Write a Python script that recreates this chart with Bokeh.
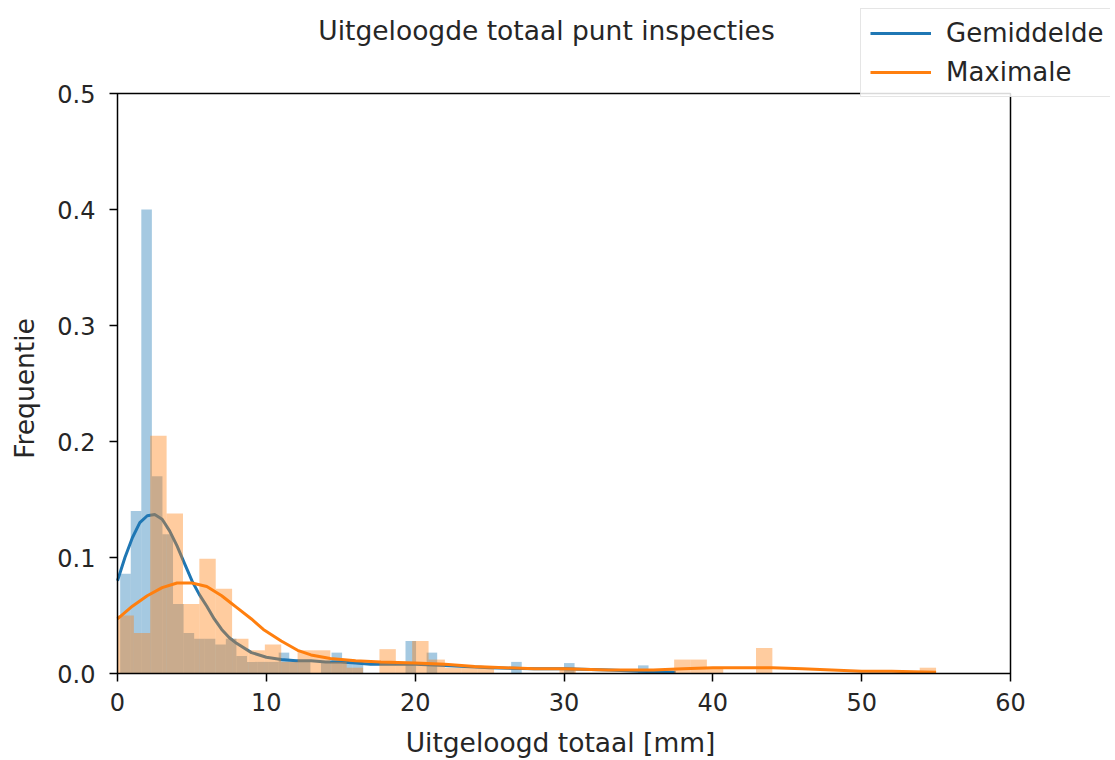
import math
from bokeh.plotting import figure
from bokeh.models import (Range1d, FixedTicker, PrintfTickFormatter, Legend, LegendItem,
                          ColumnDataSource, BoxAnnotation, Label)
from bokeh.embed import file_html
from bokeh.resources import INLINE

# ---------------- data ----------------
title_text = "Uitgeloogde totaal punt inspecties"
x_label = "Uitgeloogd totaal [mm]"
y_label = "Frequentie"
series_names = ["Gemiddelde", "Maximale"]

# histogram of "Gemiddelde": equal bins, first edge and width
blue_bin_start = 0.18
blue_bin_width = 0.71
blue_density = [0.086, 0.14, 0.40, 0.17, 0.12, 0.06, 0.035, 0.03, 0.03, 0.025,
                0.03, 0.015, 0.01, 0.01, 0.01, 0.018, 0.012, 0.01, 0.0, 0.01,
                0.018, 0.01, 0.01, 0.0, 0.0, 0.0, 0.0, 0.028, 0.0, 0.018,
                0.0, 0.0, 0.0, 0.0, 0.0, 0.0, 0.0, 0.01, 0.0, 0.0,
                0.0, 0.0, 0.009, 0.0, 0.0, 0.0, 0.0, 0.0, 0.0, 0.007]

# histogram of "Maximale"
orange_bin_start = 0.0
orange_bin_width = 1.1
orange_density = [0.05, 0.035, 0.205, 0.138, 0.06, 0.099, 0.073, 0.03, 0.02, 0.025,
                  0.01, 0.02, 0.02, 0.01, 0.005, 0.0, 0.021, 0.01, 0.028, 0.012,
                  0.005, 0.005, 0.005, 0.0, 0.0, 0.0, 0.0, 0.005, 0.0, 0.0,
                  0.0, 0.0, 0.0, 0.0, 0.012, 0.012, 0.005, 0.0, 0.0, 0.022,
                  0.0, 0.0, 0.0, 0.0, 0.0, 0.0, 0.0, 0.0, 0.0, 0.005]

# density curves
blue_kde_x = [0, 0.5, 1, 1.5, 2, 2.5, 3, 3.5, 4, 4.5, 5, 5.5, 6, 6.5, 7, 7.5, 8, 9, 10,
              11, 12, 13, 14, 15, 16, 17, 18, 20, 22, 25, 28, 30, 33, 35, 37.5]
blue_kde_y = [0.080, 0.100, 0.117, 0.130, 0.136, 0.137, 0.133, 0.123, 0.110, 0.095,
              0.080, 0.068, 0.058, 0.047, 0.038, 0.031, 0.026, 0.018, 0.014,
              0.012, 0.011, 0.011, 0.010, 0.010, 0.009, 0.008, 0.008, 0.008, 0.007,
              0.005, 0.004, 0.004, 0.003, 0.002, 0.001]

orange_kde_x = [0, 1, 2, 3, 4, 5, 6, 7, 7.6, 8, 9, 9.8, 11, 12.1, 13, 14.3, 16, 17.7,
                20, 22, 24, 26, 28, 30, 33, 36, 38, 40, 42, 44, 46, 48, 50, 52, 55]
orange_kde_y = [0.047, 0.058, 0.067, 0.074, 0.078, 0.078, 0.075, 0.067, 0.061, 0.057,
                0.047, 0.038, 0.028, 0.020, 0.016, 0.013, 0.011, 0.010,
                0.009, 0.008, 0.006, 0.005, 0.004, 0.004, 0.003, 0.003, 0.004, 0.005,
                0.005, 0.005, 0.004, 0.003, 0.002, 0.002, 0.001]

x_ticks = [0, 10, 20, 30, 40, 50, 60]
y_ticks = [0.0, 0.1, 0.2, 0.3, 0.4, 0.5]
x_min, x_max = 0, 60
y_min, y_max = 0.0, 0.5

# ---------------- layout / styles ----------------
BLUE = "#1f77b4"
ORANGE = "#ff7f0e"
TEXT = "#262626"
FONT = "DejaVu Sans"

W, H = 1110, 760
AX_LEFT, AX_RIGHT, AX_TOP, AX_BOTTOM = 117, 1010, 93, 673   # visible axes box, px
# the drawing frame covers the whole canvas; the axes are pinned to the box edges,
# so that the title, labels and the legend outside the box are not clipped
ppx = (AX_RIGHT - AX_LEFT) / (x_max - x_min)
ppy = (AX_BOTTOM - AX_TOP) / (y_max - y_min)


def px_to_x(px):
    return x_min + (px - AX_LEFT) / ppx


def px_to_y(py):
    return y_min + (AX_BOTTOM - py) / ppy


def hist_source(start, width, dens):
    left = [start + i * width for i in range(len(dens))]
    right = [l + width for l in left]
    return ColumnDataSource(dict(left=left, right=right, top=dens))


p = figure(width=W, height=H, output_backend="svg", toolbar_location=None,
           x_range=Range1d(px_to_x(0), px_to_x(W)), y_range=Range1d(px_to_y(H), px_to_y(0)),
           min_border_left=0, min_border_right=0, min_border_top=0, min_border_bottom=0)

p.quad(left="left", right="right", top="top", bottom=0,
       source=hist_source(blue_bin_start, blue_bin_width, blue_density),
       fill_color=BLUE, fill_alpha=0.4, line_color=None)
blue_line = p.line(blue_kde_x, blue_kde_y, line_color=BLUE, line_width=3)

p.quad(left="left", right="right", top="top", bottom=0,
       source=hist_source(orange_bin_start, orange_bin_width, orange_density),
       fill_color=ORANGE, fill_alpha=0.4, line_color=None)
orange_line = p.line(orange_kde_x, orange_kde_y, line_color=ORANGE, line_width=3)

# axes box
p.outline_line_color = None
p.add_layout(BoxAnnotation(left=x_min, right=x_max, bottom=y_min, top=y_max,
                           fill_alpha=0, fill_color=None, line_color="black",
                           line_alpha=1.0, line_width=1.5))

# axes pinned to the box
p.xgrid.visible = False
p.ygrid.visible = False
p.xaxis.fixed_location = y_min
p.yaxis.fixed_location = x_min
p.xaxis.ticker = FixedTicker(ticks=x_ticks)
p.yaxis.ticker = FixedTicker(ticks=y_ticks)
p.xaxis.formatter = PrintfTickFormatter(format="%d")
p.yaxis.formatter = PrintfTickFormatter(format="%.1f")
for ax in (p.xaxis[0], p.yaxis[0]):
    ax.axis_line_color = None
    ax.major_tick_line_color = "black"
    ax.major_tick_line_width = 1.5
    ax.major_tick_in = 0
    ax.major_tick_out = 8
    ax.minor_tick_line_color = None
    ax.major_label_text_font = FONT
    ax.major_label_text_font_size = "24px"
    ax.major_label_text_color = TEXT
p.xaxis.major_label_standoff = 11
p.yaxis.major_label_standoff = 14

# title and axis labels
p.add_layout(Label(x=px_to_x(546), y=px_to_y(30), text=title_text, text_align="center",
                   text_baseline="middle", text_font=FONT, text_font_size="26.5px",
                   text_color=TEXT))
p.add_layout(Label(x=px_to_x(560), y=px_to_y(742), text=x_label, text_align="center",
                   text_baseline="middle", text_font=FONT, text_font_size="26.5px",
                   text_color=TEXT))
p.add_layout(Label(x=px_to_x(24), y=px_to_y(388), text=y_label, text_align="center",
                   text_baseline="middle", angle=math.pi / 2, text_font=FONT,
                   text_font_size="26.5px", text_color=TEXT))

legend = Legend(items=[LegendItem(label=series_names[0], renderers=[blue_line]),
                       LegendItem(label=series_names[1], renderers=[orange_line])],
                location=(860, H - 97))
legend.label_text_font = FONT
legend.label_text_font_size = "26px"
legend.label_text_color = TEXT
legend.glyph_width = 61
legend.glyph_height = 30
legend.label_height = 30
legend.label_standoff = 15
legend.padding = 9
legend.spacing = 9
legend.margin = 0
legend.border_line_color = "#cccccc"
legend.border_line_width = 1.5
legend.background_fill_color = "white"
legend.background_fill_alpha = 0.85
p.add_layout(legend, "center")

open("out.html", "w").write(file_html(p, INLINE))
